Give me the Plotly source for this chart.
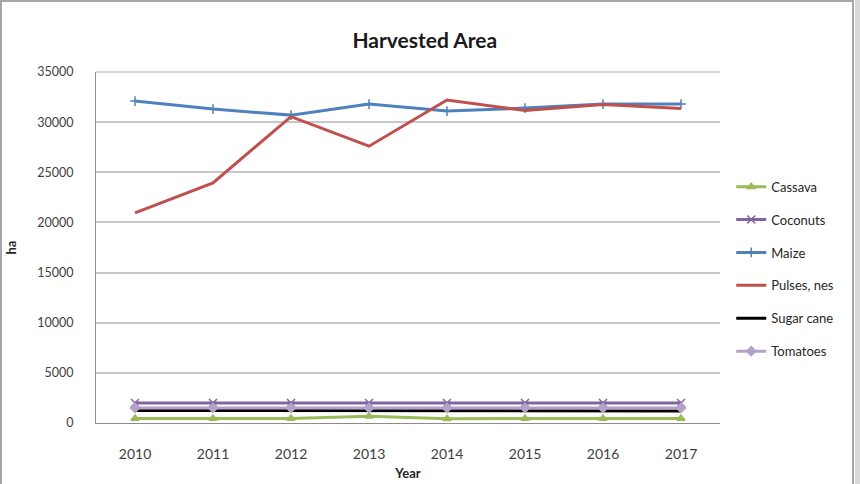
import plotly.graph_objects as go

years = ["2010", "2011", "2012", "2013", "2014", "2015", "2016", "2017"]
cassava = [450, 450, 450, 680, 420, 450, 450, 450]
coconuts = [2000, 2000, 2000, 2000, 2000, 2000, 2000, 2000]
maize = [32100, 31300, 30700, 31800, 31100, 31400, 31800, 31800]
pulses = [20950, 23950, 30550, 27600, 32200, 31150, 31750, 31350]
sugar_cane = [1250, 1250, 1250, 1200, 1250, 1250, 1250, 1200]
tomatoes = [1500, 1500, 1500, 1500, 1500, 1500, 1500, 1500]

series = [
    ("Cassava", cassava, "#9BBB59", "triangle-up", 7),
    ("Coconuts", coconuts, "#8064A2", "x-thin", 8),
    ("Maize", maize, "#4F81BD", "cross-thin", 7),
    ("Pulses, nes", pulses, "#C0504D", None, 0),
    ("Sugar cane", sugar_cane, "#000000", None, 0),
    ("Tomatoes", tomatoes, "#B3A2C7", "diamond", 7),
]

fig = go.Figure()
for name, vals, color, sym, size in series:
    if sym:
        marker = dict(symbol=sym, size=size, color=color,
                      line=dict(color=color, width=1.5))
        mode = "lines+markers"
    else:
        marker = None
        mode = "lines"
    fig.add_trace(go.Scatter(
        x=years, y=vals, name=name, mode=mode,
        line=dict(color=color, width=3),
        marker=marker, legendgroup=name,
    ))

fig.update_layout(
    width=860, height=484,
    margin=dict(l=96, r=140, t=72, b=61),
    paper_bgcolor="white", plot_bgcolor="white",
    font=dict(family="Lato, 'Open Sans', sans-serif", color="#404040"),
    title=dict(text="<b>Harvested Area</b>", x=0.494, xanchor="center",
               y=0.915, yanchor="middle",
               font=dict(size=21, color="#1a1a1a")),
    showlegend=True,
    legend=dict(x=1.018, xanchor="left", y=0.716, yanchor="top",
                font=dict(size=13, color="#262626"),
                tracegroupgap=13, itemwidth=30,
                bgcolor="rgba(0,0,0,0)"),
    xaxis=dict(
        type="category", showgrid=False, showline=True,
        linecolor="#8c8c8c", linewidth=1, ticks="",
        tickfont=dict(size=14, color="#404040"),
        ticklabelstandoff=18, automargin=False,
        title=dict(text="<b>Year</b>", font=dict(size=13, color="#262626"),
                   standoff=8),
        range=[-0.5, 7.5], mirror=False,
    ),
    yaxis=dict(
        range=[0, 35000], dtick=5000, showgrid=True,
        gridcolor="#c8c8c8", gridwidth=1.5,
        showline=True, linecolor="#8c8c8c", linewidth=1,
        tickfont=dict(size=12.5, color="#404040"),
        ticklabelstandoff=19, automargin=False,
        tickformat="d", zeroline=False,
        title=dict(text="<b>ha</b>", font=dict(size=13, color="#262626"),
                   standoff=17),
    ),
)

# outer chart frame (Excel-like)
fig.add_shape(type="rect", xref="paper", yref="paper",
              x0=(1 - 96) / 624, x1=(853 - 96) / 624,
              y0=(423 - 490) / 350.5, y1=(423 - 1.5) / 350.5,
              line=dict(color="#a6a6a6", width=2), fillcolor="rgba(0,0,0,0)",
              layer="below")
fig.add_shape(type="rect", xref="paper", yref="paper",
              x0=(855 - 96) / 624, x1=(870 - 96) / 624,
              y0=(423 - 490) / 350.5, y1=(423 + 10) / 350.5,
              line=dict(width=0), fillcolor="#d9d9d9", layer="below")
# top border line of plot area
fig.add_shape(type="line", xref="paper", yref="paper",
              x0=0, x1=1, y0=1, y1=1,
              line=dict(color="#c8c8c8", width=1.5), layer="below")

fig.write_html("out.html")
